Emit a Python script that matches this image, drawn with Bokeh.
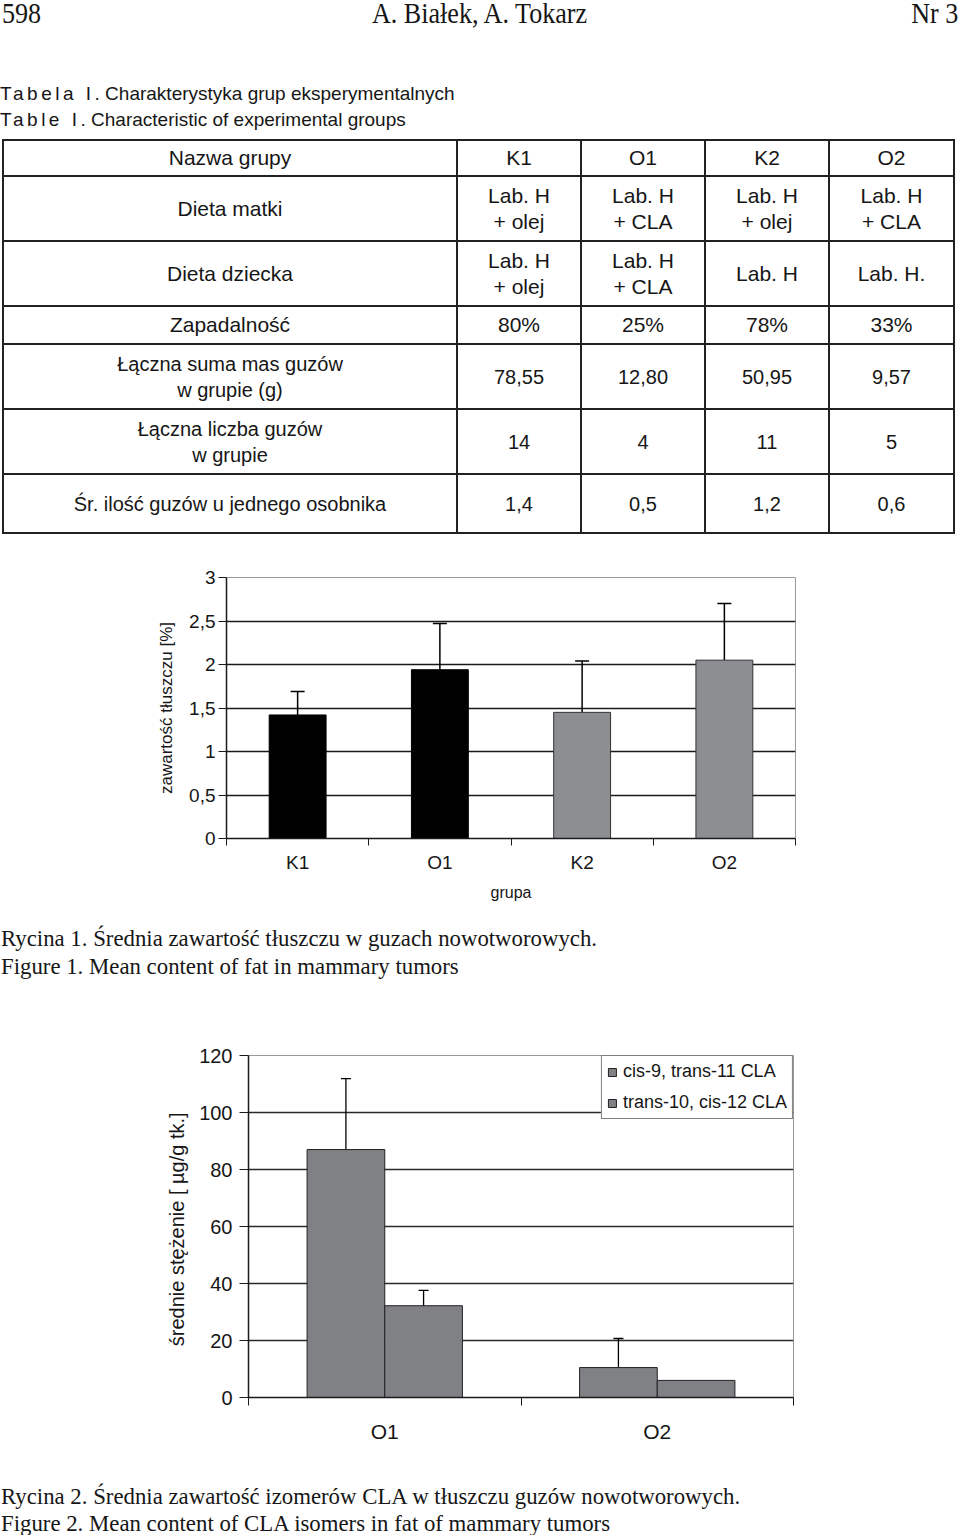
import numpy as np
from bokeh.plotting import figure
from bokeh.models import Div, FixedTicker, Range1d, ColumnDataSource, Whisker, TeeHead, Spacer
from bokeh.layouts import column, row
from bokeh.embed import file_html
from bokeh.resources import INLINE

# ---------------- data ----------------
PAGE_NUMBER = "598"
AUTHORS = "A. Białek, A. Tokarz"
ISSUE = "Nr 3"

table_caption_pl = ("Tabela I", ". Charakterystyka grup eksperymentalnych")
table_caption_en = ("Table I", ". Characteristic of experimental groups")

table_corner = "Nazwa grupy"
table_groups = ["K1", "O1", "K2", "O2"]
row_names = ["Dieta matki", "Dieta dziecka", "Zapadalność",
             "Łączna suma mas guzów\nw grupie (g)", "Łączna liczba guzów\nw grupie",
             "Śr. ilość guzów u jednego osobnika"]
mother_diet = ["Lab. H\n+ olej", "Lab. H\n+ CLA", "Lab. H\n+ olej", "Lab. H\n+ CLA"]
child_diet = ["Lab. H\n+ olej", "Lab. H\n+ CLA", "Lab. H", "Lab. H."]
incidence = ["80%", "25%", "78%", "33%"]
tumor_mass_total = ["78,55", "12,80", "50,95", "9,57"]
tumor_count_total = ["14", "4", "11", "5"]
tumors_per_animal = ["1,4", "0,5", "1,2", "0,6"]

fat_groups = ["K1", "O1", "K2", "O2"]
fat_mean = [1.42, 1.94, 1.45, 2.05]
fat_err = [0.27, 0.53, 0.59, 0.65]
fat_ticks = [0, 0.5, 1, 1.5, 2, 2.5, 3]
fat_tick_labels = ["0", "0,5", "1", "1,5", "2", "2,5", "3"]
fat_ylabel = "zawartość tłuszczu [%]"
fat_xlabel = "grupa"

cla_groups = ["O1", "O2"]
cla_isomers = ["cis-9, trans-11 CLA", "trans-10, cis-12 CLA"]
c9t11_mean = [87.0, 10.5]
c9t11_err = [24.9, 10.2]
t10c12_mean = [32.2, 6.0]
t10c12_err = [5.4, 0.0]
cla_ticks = [0, 20, 40, 60, 80, 100, 120]
cla_ylabel = "średnie stężenie  [ µg/g tk.]"

fig1_caption = ["Rycina 1. Średnia zawartość tłuszczu w guzach nowotworowych.",
                "Figure 1. Mean content of fat in mammary tumors"]
fig2_caption = ["Rycina 2. Średnia zawartość izomerów CLA w tłuszczu guzów nowotworowych.",
                "Figure 2. Mean content of CLA isomers in fat of mammary tumors"]

# ---------------- styles ----------------
SANS = "Liberation Sans"
SERIF = "Liberation Serif"
INK = "#161616"
fat_bar_colors = ["#000000", "#000000", "#8d8e92", "#8d8e92"]
fat_bar_lines = ["#000000", "#000000", "#333333", "#333333"]
cla_bar_color = "#808185"

# ---------------- header + table caption ----------------
top_html = f'''
<div style="position:relative;width:960px;height:139px;color:{INK};">
  <div style="position:absolute;left:2px;top:-1px;font-family:'{SERIF}';font-size:29px;line-height:1;white-space:nowrap;transform:scaleX(0.9);transform-origin:left top;">{PAGE_NUMBER}</div>
  <div style="position:absolute;left:0;width:960px;top:-1px;text-align:center;font-family:'{SERIF}';font-size:29px;line-height:1;white-space:nowrap;"><span style="display:inline-block;transform:scaleX(0.9);">{AUTHORS}</span></div>
  <div style="position:absolute;right:2px;top:-1px;font-family:'{SERIF}';font-size:29px;line-height:1;white-space:nowrap;transform:scaleX(0.9);transform-origin:right top;">{ISSUE}</div>
  <div style="position:absolute;left:0;top:84px;font-family:'{SANS}';font-size:19px;line-height:1;white-space:nowrap;"><span style="letter-spacing:3.5px;">{table_caption_pl[0]}</span>{table_caption_pl[1]}</div>
  <div style="position:absolute;left:0;top:110px;font-family:'{SANS}';font-size:19px;line-height:1;white-space:nowrap;"><span style="letter-spacing:3.5px;">{table_caption_en[0]}</span>{table_caption_en[1]}</div>
</div>
'''
div_top = Div(text=top_html, width=960, height=139, margin=(0, 0, 0, 0))

# ---------------- table ----------------
col_widths = [454, 124, 124, 124, 125]
row_heights = [36, 65, 65, 38, 65, 65, 59]
row_font = [21, 21, 21, 21, 20, 20, 20]


def td(txt, size):
    return (f'<td style="border:2px solid #222;padding:0;text-align:center;vertical-align:middle;'
            f'font-size:{size}px;line-height:26px;white-space:nowrap;">{txt.replace(chr(10), "<br>")}</td>')


table_rows = [[table_corner] + table_groups]
for name, vals in zip(row_names, [mother_diet, child_diet, incidence, tumor_mass_total,
                                  tumor_count_total, tumors_per_animal]):
    table_rows.append([name] + vals)

rows_html = ""
for cells, h, fs in zip(table_rows, row_heights, row_font):
    rows_html += f'<tr style="height:{h}px;">' + "".join(td(c, fs) for c in cells) + "</tr>"

cols_html = "".join(f'<col style="width:{w}px;">' for w in col_widths)
table_html = f'''
<div style="position:relative;width:960px;height:395px;color:{INK};font-family:'{SANS}';">
 <table style="position:absolute;left:2px;top:0;border-collapse:collapse;table-layout:fixed;width:{sum(col_widths)}px;">
  <colgroup>{cols_html}</colgroup>
  {rows_html}
 </table>
</div>
'''
div_table = Div(text=table_html, width=960, height=395, margin=(0, 0, 0, 0))

# ---------------- figure 1 ----------------
x1 = np.arange(len(fat_groups)) + 0.5
p1 = figure(width=960, height=378, x_range=Range1d(0, len(fat_groups)), y_range=Range1d(0, 3),
            output_backend="svg", toolbar_location=None,
            min_border_left=226, min_border_right=165, min_border_top=43, min_border_bottom=74,
            margin=(0, 0, 0, 0))
p1.vbar(x=x1, top=fat_mean, width=0.4, fill_color=fat_bar_colors, line_color=fat_bar_lines, line_width=1)
src1 = ColumnDataSource(data=dict(x=x1, lower=fat_mean, upper=np.add(fat_mean, fat_err)))
p1.add_layout(Whisker(source=src1, base="x", lower="lower", upper="upper", dimension="height",
                      line_color="black", line_width=1.5,
                      upper_head=TeeHead(size=14, line_color="black", line_width=1.5), lower_head=None))

p1.yaxis.ticker = FixedTicker(ticks=fat_ticks)
p1.yaxis.major_label_overrides = {float(t): l for t, l in zip(fat_ticks, fat_tick_labels)}
p1.xaxis.ticker = FixedTicker(ticks=list(x1), minor_ticks=list(range(len(fat_groups) + 1)))
p1.xaxis.major_label_overrides = {float(x): g for x, g in zip(x1, fat_groups)}
p1.ygrid.ticker = FixedTicker(ticks=fat_ticks[1:-1])
p1.xgrid.visible = False
p1.ygrid.grid_line_color = "#1a1a1a"
p1.ygrid.grid_line_width = 1.6
p1.outline_line_color = "#9a9a9a"
p1.outline_line_width = 1

for ax in (p1.xaxis[0], p1.yaxis[0]):
    ax.axis_line_color = "#1a1a1a"
    ax.axis_line_width = 1.5
    ax.major_label_text_font = SANS
    ax.major_label_text_color = INK
    ax.axis_label_text_font = SANS
    ax.axis_label_text_font_style = "normal"
    ax.axis_label_text_color = INK
    ax.minor_tick_line_color = None

p1.yaxis.major_label_text_font_size = "19px"
p1.yaxis.major_tick_out = 8
p1.yaxis.major_tick_in = 0
p1.yaxis.major_tick_line_color = "#1a1a1a"
p1.yaxis.major_label_standoff = 3
p1.yaxis.axis_label = fat_ylabel
p1.yaxis.axis_label_text_font_size = "17px"
p1.yaxis.axis_label_standoff = 10

p1.xaxis.major_tick_line_color = None
p1.xaxis.major_tick_out = 0
p1.xaxis.major_tick_in = 0
p1.xaxis.minor_tick_line_color = "#1a1a1a"
p1.xaxis.minor_tick_out = 7
p1.xaxis.minor_tick_in = 0
p1.xaxis.major_label_text_font_size = "19px"
p1.xaxis.major_label_standoff = 6
p1.xaxis.axis_label = fat_xlabel
p1.xaxis.axis_label_text_font_size = "16px"
p1.xaxis.axis_label_standoff = 8

# ---------------- caption 1 ----------------
cap1_html = f'''
<div style="position:relative;width:960px;height:88px;color:{INK};font-family:'{SERIF}';font-size:22.8px;line-height:1;white-space:nowrap;">
 <div style="position:absolute;left:1px;top:16px;">{fig1_caption[0]}</div>
 <div style="position:absolute;left:1px;top:44px;">{fig1_caption[1]}</div>
</div>'''
div_cap1 = Div(text=cap1_html, width=960, height=88, margin=(0, 0, 0, 0))

# ---------------- figure 2 ----------------
x2 = np.arange(len(cla_groups)) + 0.5
bar_w = 0.285
p2 = figure(width=938, height=470, x_range=Range1d(0, len(cla_groups)), y_range=Range1d(0, 120),
            output_backend="svg", toolbar_location=None,
            min_border_left=226, min_border_right=167, min_border_top=55, min_border_bottom=73,
            margin=(0, 0, 0, 0))
xs_a = x2 - bar_w / 2
xs_b = x2 + bar_w / 2
p2.vbar(x=xs_a, top=c9t11_mean, width=bar_w, fill_color=cla_bar_color, line_color="#222222",
        line_width=1, legend_label=cla_isomers[0])
p2.vbar(x=xs_b, top=t10c12_mean, width=bar_w, fill_color=cla_bar_color, line_color="#222222",
        line_width=1, legend_label=cla_isomers[1])

ex, lo, hi = [], [], []
for xs, m, e in ((xs_a, c9t11_mean, c9t11_err), (xs_b, t10c12_mean, t10c12_err)):
    for xx, mm, ee in zip(xs, m, e):
        if ee > 0:
            ex.append(xx)
            lo.append(mm - ee)
            hi.append(mm + ee)
src2 = ColumnDataSource(data=dict(x=ex, lower=lo, upper=hi))
p2.add_layout(Whisker(source=src2, base="x", lower="lower", upper="upper", dimension="height",
                      line_color="black", line_width=1.3,
                      upper_head=TeeHead(size=10, line_color="black", line_width=1.3),
                      lower_head=TeeHead(size=10, line_color="black", line_width=1.3)))

p2.yaxis.ticker = FixedTicker(ticks=cla_ticks)
p2.xaxis.ticker = FixedTicker(ticks=list(x2), minor_ticks=list(range(len(cla_groups) + 1)))
p2.xaxis.major_label_overrides = {float(x): g for x, g in zip(x2, cla_groups)}
p2.ygrid.ticker = FixedTicker(ticks=cla_ticks[1:-1])
p2.xgrid.visible = False
p2.ygrid.grid_line_color = "#2a2a2a"
p2.ygrid.grid_line_width = 1.3
p2.outline_line_color = "#9a9a9a"
p2.outline_line_width = 1

for ax in (p2.xaxis[0], p2.yaxis[0]):
    ax.axis_line_color = "#1a1a1a"
    ax.axis_line_width = 1.5
    ax.major_label_text_font = SANS
    ax.major_label_text_color = INK
    ax.axis_label_text_font = SANS
    ax.axis_label_text_font_style = "normal"
    ax.axis_label_text_color = INK
    ax.minor_tick_line_color = None

p2.yaxis.major_label_text_font_size = "20px"
p2.yaxis.major_tick_out = 9
p2.yaxis.major_tick_in = 0
p2.yaxis.major_tick_line_color = "#1a1a1a"
p2.yaxis.major_label_standoff = 7
p2.yaxis.axis_label = cla_ylabel
p2.yaxis.axis_label_text_font_size = "20px"
p2.yaxis.axis_label_standoff = 8

p2.xaxis.major_tick_line_color = None
p2.xaxis.major_tick_out = 0
p2.xaxis.major_tick_in = 0
p2.xaxis.minor_tick_line_color = "#1a1a1a"
p2.xaxis.minor_tick_out = 8
p2.xaxis.minor_tick_in = 0
p2.xaxis.major_label_text_font_size = "21px"
p2.xaxis.major_label_standoff = 14

lg = p2.legend[0]
lg.location = "top_right"
lg.margin = 0
lg.padding = 5
lg.spacing = 10
lg.border_line_color = "black"
lg.border_line_width = 1
lg.background_fill_color = "white"
lg.background_fill_alpha = 1
lg.glyph_width = 10
lg.glyph_height = 10
lg.label_height = 20
lg.label_standoff = 6
lg.label_text_font = SANS
lg.label_text_font_size = "18px"
lg.label_text_color = INK

# ---------------- caption 2 ----------------
cap2_html = f'''
<div style="position:relative;width:960px;height:65px;color:{INK};font-family:'{SERIF}';font-size:22.8px;line-height:1;white-space:nowrap;">
 <div style="position:absolute;left:1px;top:16px;">{fig2_caption[0]}</div>
 <div style="position:absolute;left:1px;top:43px;">{fig2_caption[1]}</div>
</div>'''
div_cap2 = Div(text=cap2_html, width=960, height=65, margin=(0, 0, 0, 0))

chart2_row = row(Spacer(width=22, height=470, margin=(0, 0, 0, 0)), p2, spacing=0, margin=(0, 0, 0, 0))

page = column(div_top, div_table, p1, div_cap1, chart2_row, div_cap2, spacing=0, margin=(0, 0, 0, 0))

with open("out.html", "w") as f:
    f.write(file_html(page, INLINE))
